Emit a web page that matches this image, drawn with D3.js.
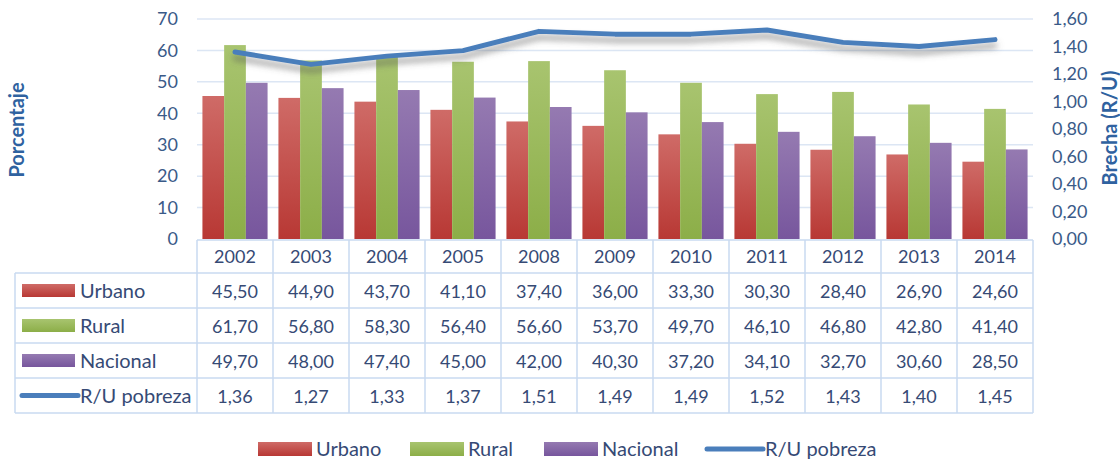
<!DOCTYPE html>
<html>
<head>
<meta charset="utf-8">
<script src="https://cdn.jsdelivr.net/npm/d3@7"></script>
<style>
  body { margin: 0; background: #fff; }
  svg { display: block; font-family: Lato, "Open Sans", sans-serif; }
</style>
</head>
<body>
<svg id="chart" width="1120" height="459"></svg>
<script>
// data
let years = ["2002", "2003", "2004", "2005", "2008", "2009", "2010", "2011", "2012", "2013", "2014"];
let urbano = [45.5, 44.9, 43.7, 41.1, 37.4, 36.0, 33.3, 30.3, 28.4, 26.9, 24.6];
let rural = [61.7, 56.8, 58.3, 56.4, 56.6, 53.7, 49.7, 46.1, 46.8, 42.8, 41.4];
let nacional = [49.7, 48.0, 47.4, 45.0, 42.0, 40.3, 37.2, 34.1, 32.7, 30.6, 28.5];
let brecha = [1.36, 1.27, 1.33, 1.37, 1.51, 1.49, 1.49, 1.52, 1.43, 1.40, 1.45];

let seriesNames = ["Urbano", "Rural", "Nacional"];
let lineName = "R/U pobreza";
let leftTicks = [0, 10, 20, 30, 40, 50, 60, 70];
let rightTicks = [0, 0.2, 0.4, 0.6, 0.8, 1.0, 1.2, 1.4, 1.6];

let colors = {
  Urbano: ["#cf6b67", "#b83834"],
  Rural: ["#a8c46f", "#8cae48"],
  Nacional: ["#957ab1", "#77569d"]
};
let lineColor = "#4a7ebb";
let textColor = "#364a75";

let svg = d3.select("#chart");
let es = d3.formatLocale({ decimal: ",", thousands: ".", grouping: [3], currency: ["", ""] });
let f2 = es.format(".2f");

let rows = years.map((y, i) => ({ year: y, Urbano: urbano[i], Rural: rural[i], Nacional: nacional[i], brecha: brecha[i] }));

// scales
let x0 = d3.scaleBand().domain(years).range([197, 1033]);
let x1 = d3.scaleBand().domain(seriesNames).range([0, x0.bandwidth()]).paddingOuter(0.25);
let yL = d3.scaleLinear().domain([0, 70]).range([239, 19]);
let yR = d3.scaleLinear().domain([0, 1.6]).range([239, 19]);

// gradients + shadow
let defs = svg.append("defs");
seriesNames.forEach(s => {
  let g = defs.append("linearGradient").attr("id", "g-" + s)
    .attr("x1", 0).attr("y1", 0).attr("x2", 0).attr("y2", 1);
  g.append("stop").attr("offset", "0%").attr("stop-color", colors[s][0]);
  g.append("stop").attr("offset", "100%").attr("stop-color", colors[s][1]);
});
let flt = defs.append("filter").attr("id", "shadow")
  .attr("x", "-10%").attr("y", "-50%").attr("width", "120%").attr("height", "300%");
flt.append("feDropShadow").attr("dx", 0).attr("dy", 6).attr("stdDeviation", 3)
  .attr("flood-color", "#555").attr("flood-opacity", 0.55);

// gridlines
svg.append("g").selectAll("line").data(leftTicks.slice(1)).join("line")
  .attr("x1", 197).attr("x2", 1033)
  .attr("y1", d => yL(d)).attr("y2", d => yL(d))
  .attr("stroke", "#dce6f4").attr("stroke-width", 1.5);

// axes
let axL = svg.append("g").attr("transform", "translate(180,0)")
  .call(d3.axisLeft(yL).tickValues(leftTicks).tickSize(0).tickPadding(2));
let axR = svg.append("g").attr("transform", "translate(1050,0)")
  .call(d3.axisRight(yR).tickValues(rightTicks).tickSize(0).tickPadding(2).tickFormat(f2));
[axL, axR].forEach(a => {
  a.select(".domain").remove();
  a.selectAll("text").attr("font-size", 18).attr("fill", "#3a5a88")
    .attr("font-family", "Lato, sans-serif");
});

// bars
svg.append("g").selectAll("g").data(rows).join("g")
  .attr("transform", d => `translate(${x0(d.year)},0)`)
  .selectAll("rect").data(d => seriesNames.map(s => ({ s: s, v: d[s] }))).join("rect")
  .attr("x", d => x1(d.s))
  .attr("width", x1.bandwidth())
  .attr("y", d => yL(d.v))
  .attr("height", d => yL(0) - yL(d.v))
  .attr("fill", d => `url(#g-${d.s})`);

// line
let line = d3.line()
  .x(d => x0(d.year) + x0.bandwidth() / 2)
  .y(d => yR(d.brecha));
svg.append("path").datum(rows)
  .attr("d", line)
  .attr("fill", "none")
  .attr("stroke", lineColor)
  .attr("stroke-width", 5)
  .attr("stroke-linejoin", "round")
  .attr("stroke-linecap", "round")
  .attr("filter", "url(#shadow)");

// axis titles
svg.append("text").attr("transform", "translate(24,130) rotate(-90)")
  .attr("text-anchor", "middle").attr("font-size", 20).attr("font-weight", "bold")
  .attr("fill", "#2f62a0").text("Porcentaje");
svg.append("text").attr("transform", "translate(1117,128) rotate(-90)")
  .attr("text-anchor", "middle").attr("font-size", 20).attr("font-weight", "bold")
  .attr("fill", "#2f62a0").text("Brecha (R/U)");

// data table
let rowTop = 240, headH = 33, rowH = 35;
let tbl = svg.append("g");
let border = "#c9daf0";
let tableRows = [
  { name: "Urbano", vals: urbano, key: "Urbano" },
  { name: "Rural", vals: rural, key: "Rural" },
  { name: "Nacional", vals: nacional, key: "Nacional" },
  { name: lineName, vals: brecha, key: "line" }
];
let bottom = rowTop + headH + rowH * tableRows.length;

// header row
tbl.append("line").attr("x1", 197).attr("x2", 1033).attr("y1", rowTop).attr("y2", rowTop)
  .attr("stroke", border).attr("stroke-width", 1.5);
tbl.selectAll(".yr").data(years).join("text")
  .attr("x", d => x0(d) + x0.bandwidth() / 2)
  .attr("y", rowTop + headH / 2 + 6)
  .attr("text-anchor", "middle").attr("font-size", 18).attr("fill", textColor)
  .text(d => d);

// horizontal lines
tbl.selectAll(".hl").data(d3.range(tableRows.length + 1)).join("line")
  .attr("x1", 15).attr("x2", 1033)
  .attr("y1", i => rowTop + headH + i * rowH).attr("y2", i => rowTop + headH + i * rowH)
  .attr("stroke", border).attr("stroke-width", 1.5);
// vertical lines
tbl.selectAll(".vl").data(years.concat(["end"])).join("line")
  .attr("x1", (d, i) => i < years.length ? x0(d) : x0.range()[1])
  .attr("x2", (d, i) => i < years.length ? x0(d) : x0.range()[1])
  .attr("y1", rowTop).attr("y2", bottom)
  .attr("stroke", border).attr("stroke-width", 1.5);
tbl.append("line").attr("x1", 15).attr("x2", 15).attr("y1", rowTop + headH).attr("y2", bottom)
  .attr("stroke", border).attr("stroke-width", 1.5);

tableRows.forEach((r, ri) => {
  let cy = rowTop + headH + ri * rowH + rowH / 2;
  if (r.key === "line") {
    tbl.append("line").attr("x1", 22).attr("x2", 78).attr("y1", cy).attr("y2", cy)
      .attr("stroke", lineColor).attr("stroke-width", 5).attr("stroke-linecap", "round");
  } else {
    tbl.append("rect").attr("x", 22).attr("y", cy - 6.5).attr("width", 53).attr("height", 13)
      .attr("fill", `url(#g-${r.key})`);
  }
  tbl.append("text").attr("x", 80).attr("y", cy + 7)
    .attr("font-size", 20).attr("fill", textColor).text(r.name);
  tbl.selectAll(null).data(r.vals).join("text")
    .attr("x", (d, i) => x0(years[i]) + x0.bandwidth() / 2)
    .attr("y", cy + 7)
    .attr("text-anchor", "middle").attr("font-size", 18).attr("fill", textColor)
    .text(d => f2(d));
});

// bottom legend
let legendItems = [
  { name: "Urbano", key: "Urbano", x: 258 },
  { name: "Rural", key: "Rural", x: 410 },
  { name: "Nacional", key: "Nacional", x: 544 },
  { name: lineName, key: "line", x: 707 }
];
let lg = svg.append("g").attr("transform", "translate(0,449)");
legendItems.forEach(it => {
  if (it.key === "line") {
    lg.append("line").attr("x1", it.x).attr("x2", it.x + 56).attr("y1", 0).attr("y2", 0)
      .attr("stroke", lineColor).attr("stroke-width", 5).attr("stroke-linecap", "round");
  } else {
    lg.append("rect").attr("x", it.x).attr("y", -7).attr("width", 54).attr("height", 14)
      .attr("fill", `url(#g-${it.key})`);
  }
  lg.append("text").attr("x", it.x + 58).attr("y", 7).attr("font-size", 20)
    .attr("fill", textColor).text(it.name);
});
</script>
</body>
</html>
